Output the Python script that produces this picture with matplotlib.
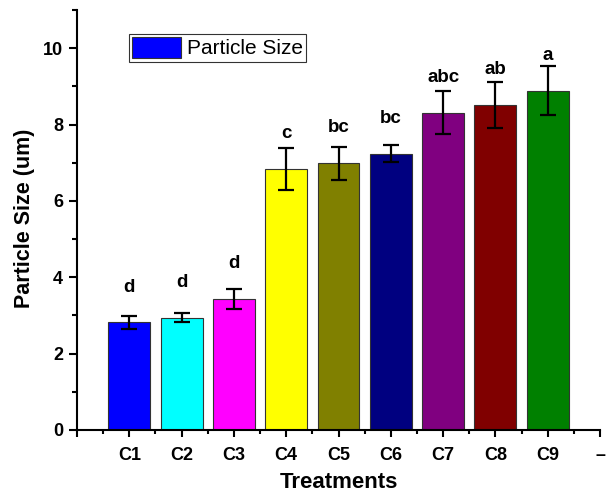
import matplotlib
matplotlib.use("Agg")
import matplotlib.pyplot as plt
from matplotlib.ticker import FixedLocator, MultipleLocator

plt.rcParams['font.family'] = ['Liberation Sans', 'DejaVu Sans']

categories = ['C1', 'C2', 'C3', 'C4', 'C5', 'C6', 'C7', 'C8', 'C9']
values = [2.82, 2.94, 3.43, 6.83, 6.98, 7.24, 8.31, 8.51, 8.89]
errors = [0.17, 0.12, 0.27, 0.55, 0.44, 0.22, 0.57, 0.60, 0.65]
letters = ['d', 'd', 'd', 'c', 'bc', 'bc', 'abc', 'ab', 'a']
letter_y = [3.62, 3.75, 4.23, 7.64, 7.81, 8.05, 9.12, 9.32, 9.69]
colors = ['#0000FF', '#00FFFF', '#FF00FF', '#FFFF00', '#808000',
          '#000080', '#800080', '#800000', '#008000']
xtick_labels = [''] + categories + ['–']
series_name = 'Particle Size'

fig = plt.figure(figsize=(6.08, 4.95), dpi=100)
ax = fig.add_axes([77/608, 1 - 430/495, 523/608, 420/495])

x = list(range(1, len(categories) + 1))
ax.bar(x, values, width=0.8, color=colors, edgecolor='#333333',
       linewidth=0.8, label=series_name, zorder=2)
ax.errorbar(x, values, yerr=errors, fmt='none', ecolor='black',
            elinewidth=1.6, capsize=5.5, capthick=1.6, zorder=3)
for xi, lab, ly in zip(x, letters, letter_y):
    ax.text(xi, ly, lab, ha='center', va='baseline', fontsize=13.5,
            fontweight='bold')

ax.set_xlim(0, 10)
ax.set_ylim(0, 11)
ax.xaxis.set_major_locator(FixedLocator(list(range(0, 11))))
ax.set_xticklabels(xtick_labels)
ax.xaxis.set_minor_locator(FixedLocator([i + 0.5 for i in range(10)]))
ax.yaxis.set_major_locator(MultipleLocator(2))
ax.yaxis.set_minor_locator(MultipleLocator(1))

for s in ['top', 'right']:
    ax.spines[s].set_visible(False)
for s in ['left', 'bottom']:
    ax.spines[s].set_linewidth(1.5)

ax.tick_params(axis='both', which='major', direction='out', width=1.5,
               labelsize=13)
ax.tick_params(axis='y', which='major', length=6, pad=4)
ax.tick_params(axis='y', which='minor', length=3.5, width=1.5)
ax.tick_params(axis='x', which='major', length=5, pad=7)
ax.tick_params(axis='x', which='minor', length=3, width=1.5)
for t in ax.get_xticklabels() + ax.get_yticklabels():
    t.set_fontweight('bold')

ax.set_ylabel('Particle Size (um)', fontsize=15.5, fontweight='bold',
              va='center')
ax.set_xlabel('Treatments', fontsize=16, fontweight='bold', va='center')
ax.yaxis.set_label_coords((25 - 77) / 523, (430 - 218) / 420)
ax.xaxis.set_label_coords(0.5, (430 - 482) / 420)

handles, labels = ax.get_legend_handles_labels()
leg = ax.legend(handles[:1], labels[:1], loc='upper left',
                bbox_to_anchor=(0.099, 0.943), fontsize=15,
                frameon=True, fancybox=False, handlelength=2.35,
                handleheight=1.15, borderpad=0.15, handletextpad=0.3,
                borderaxespad=0)
leg.get_frame().set_edgecolor('black')
leg.get_frame().set_linewidth(0.8)

fig.savefig('out.png', dpi=100)
